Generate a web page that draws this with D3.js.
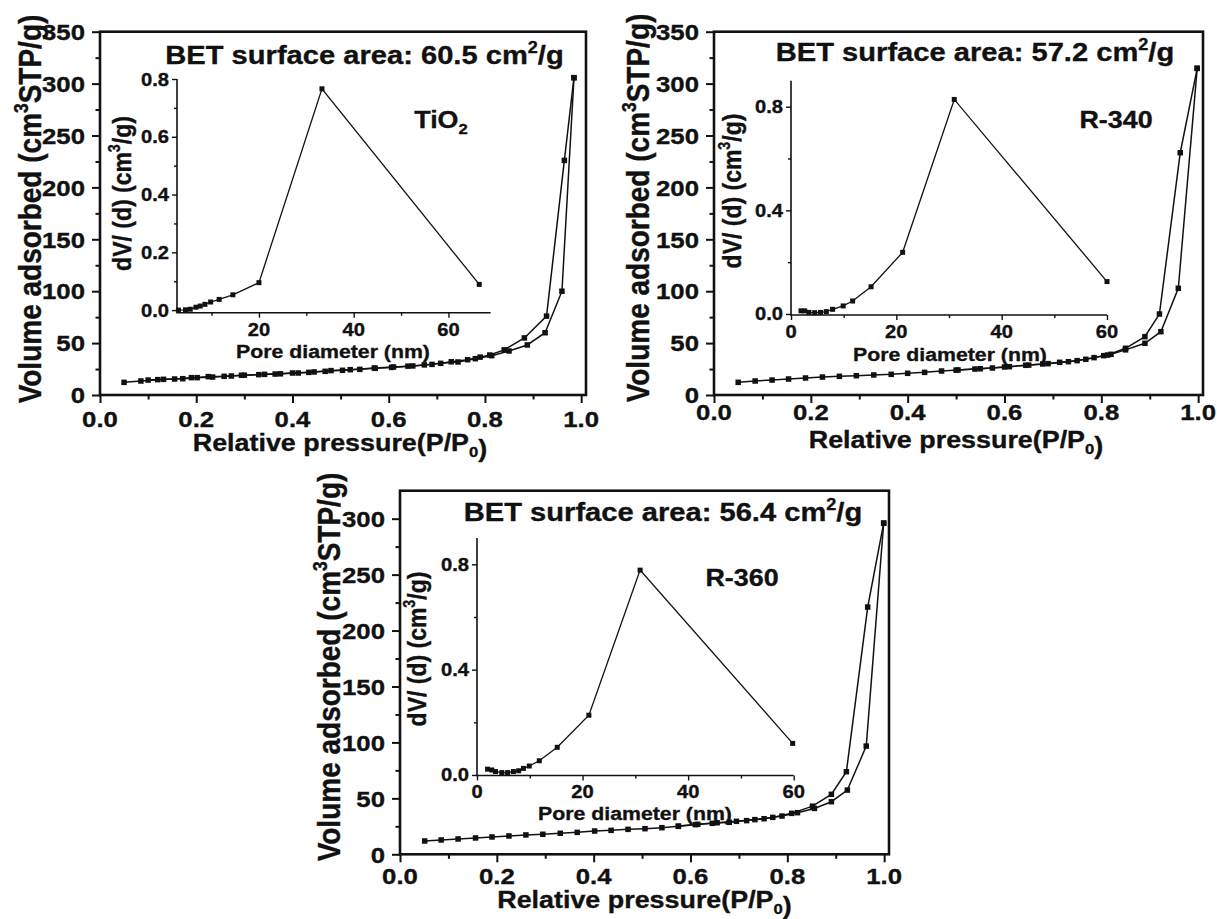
<!DOCTYPE html>
<html>
<head>
<meta charset="utf-8">
<script src="https://cdn.jsdelivr.net/npm/d3@7"></script>
<style>
  body { margin: 0; background: #fff; }
  svg { display: block; }
  text { font-family: "Liberation Sans", Arial, sans-serif; font-weight: bold; fill: #111; stroke: #111; stroke-width: 0.35px; }
</style>
</head>
<body>
<div id="chart"></div>
<script>
// ---- isotherm data (relative pressure / volume adsorbed) ----
const tio2AdsP = [0.05, 0.085, 0.12, 0.155, 0.19, 0.225, 0.258, 0.294, 0.33, 0.364, 0.40, 0.434, 0.468, 0.504, 0.54, 0.572, 0.606, 0.64, 0.674, 0.708, 0.744, 0.78, 0.814, 0.85, 0.888, 0.925, 0.96, 0.985];
const tio2AdsV = [12.2, 13.5, 14.8, 15.4, 16.7, 17.7, 18.0, 19.0, 19.6, 20.2, 21.2, 21.8, 22.8, 23.8, 24.7, 25.7, 26.6, 27.8, 29.0, 30.5, 31.8, 35.0, 37.9, 42.4, 48.2, 60, 100, 305.7];
const tio2DesP = [0.985, 0.965, 0.928, 0.882, 0.84, 0.81, 0.79, 0.764, 0.73, 0.69, 0.65, 0.61, 0.57, 0.52, 0.48, 0.445, 0.412, 0.375, 0.342, 0.30, 0.273, 0.234, 0.202, 0.172, 0.132, 0.10];
const tio2DesV = [305.7, 226, 76, 55, 43.5, 38.5, 36.5, 34.0, 32.0, 29.5, 28.0, 27.0, 26.0, 24.4, 23.5, 22.2, 21.2, 20.4, 19.9, 19.1, 18.3, 17.3, 16.7, 15.7, 15.1, 14.4];

const r340AdsP = [0.05, 0.085, 0.12, 0.154, 0.189, 0.224, 0.259, 0.294, 0.33, 0.366, 0.40, 0.435, 0.47, 0.504, 0.539, 0.575, 0.61, 0.644, 0.679, 0.714, 0.75, 0.785, 0.82, 0.85, 0.89, 0.923, 0.959, 0.998];
const r340AdsV = [12.2, 13.5, 14.4, 15.4, 16.4, 17.3, 18.0, 18.6, 19.3, 19.9, 20.9, 21.8, 23.1, 24.1, 25.0, 26.0, 27.3, 28.6, 29.9, 31.5, 33.1, 36.0, 39.2, 43.5, 49.8, 61, 102.8, 314.7];
const r340DesP = [0.998, 0.963, 0.92, 0.89, 0.85, 0.813, 0.805, 0.768, 0.732, 0.69, 0.65, 0.60, 0.55, 0.50];
const r340DesV = [314.7, 233.4, 78, 56.2, 45, 38.5, 37.9, 34.4, 32.1, 30.2, 28.8, 27.0, 25.3, 24.0];

const r360AdsP = [0.051, 0.085, 0.12, 0.156, 0.19, 0.225, 0.26, 0.295, 0.331, 0.366, 0.402, 0.436, 0.471, 0.506, 0.541, 0.575, 0.61, 0.645, 0.68, 0.716, 0.752, 0.789, 0.821, 0.856, 0.891, 0.924, 0.963, 0.999];
const r360AdsV = [11.9, 12.8, 13.7, 14.6, 15.5, 16.4, 17.3, 17.9, 18.8, 19.6, 20.8, 21.4, 22.3, 22.9, 23.8, 25.0, 26.5, 27.7, 28.6, 30.1, 31.8, 34.2, 37.2, 41.0, 47.0, 57.4, 96.7, 296];
const r360DesP = [0.999, 0.966, 0.922, 0.891, 0.852, 0.809, 0.77, 0.733, 0.695, 0.655, 0.615, 0.575];
const r360DesV = [296, 221, 73.8, 53.6, 43.0, 36.6, 33.0, 31.0, 29.5, 28.2, 26.8, 25.2];

// ---- pore size distribution insets ----
const tio2PoreD = [3.0, 4.5, 5.5, 6.7, 7.6, 8.6, 9.8, 11.6, 14.5, 20.0, 33.3, 66.5];
const tio2PoreV = [0.0, 0.001, 0.003, 0.010, 0.014, 0.020, 0.028, 0.037, 0.053, 0.095, 0.766, 0.089];
const r340PoreD = [1.9, 2.6, 3.4, 4.5, 5.6, 6.7, 7.9, 9.9, 11.7, 15.2, 21.2, 31.0, 60];
const r340PoreV = [0.012, 0.012, 0.006, 0.005, 0.006, 0.009, 0.018, 0.031, 0.050, 0.105, 0.238, 0.828, 0.125];
const r360PoreD = [2.0, 2.8, 3.5, 4.7, 5.8, 6.9, 7.9, 8.8, 9.9, 11.8, 15.2, 21.2, 30.9, 59.8];
const r360PoreV = [0.022, 0.019, 0.013, 0.009, 0.009, 0.013, 0.016, 0.025, 0.034, 0.054, 0.105, 0.227, 0.778, 0.120];

// ---- ticks ----
const mainXTicks = [0, 0.2, 0.4, 0.6, 0.8, 1.0];
const mainXMinor = [0.1, 0.3, 0.5, 0.7, 0.9];
const mainYTicks = [0, 50, 100, 150, 200, 250, 300, 350];
const mainYTicks3 = [0, 50, 100, 150, 200, 250, 300];
const mainYMinor = [25, 75, 125, 175, 225, 275, 325];
const tio2InsetY = [0, 0.2, 0.4, 0.6, 0.8];
const tio2InsetYMinor = [0.1, 0.3, 0.5, 0.7];
const rInsetY = [0, 0.4, 0.8];
const rInsetYMinor = [0.2, 0.6];
const tio2InsetX = [20, 40, 60];
const rInsetX = [0, 20, 40, 60];
const insetXMinor = [10, 30, 50];

const betValues = ['60.5', '57.2', '56.4'];

const W = 1217, H = 919;
const SX = 1.12; // the figure is a little stretched horizontally

const svg = d3.select('#chart').append('svg')
    .attr('width', W)
    .attr('height', H);

// text with optional sup/sub parts, stretched like the original
function addText(g, x, y, size, parts, anchor = 'middle', rot = 0) {
    const t = g.append('text')
        .attr('transform', `translate(${x},${y}) scale(${SX},1)` + (rot ? ` rotate(${rot})` : ''))
        .attr('text-anchor', anchor)
        .attr('font-size', size);
    let shift = 0;
    parts.forEach(p => {
        const s = typeof p === 'string' ? p : p[0];
        const kind = typeof p === 'string' ? '' : p[1];
        const target = kind === 'sup' ? -0.42 * size : kind === 'sub' ? 0.25 * size : 0;
        t.append('tspan')
            .attr('dy', target - shift)
            .attr('font-size', kind ? size * 0.62 : size)
            .text(s);
        shift = target;
    });
    return t;
}

function tickLines(g, axisGen, values, size, sw) {
    g.call(axisGen.tickValues(values).tickSize(size).tickSizeOuter(0).tickFormat(''))
        .call(a => a.select('.domain').remove());
    g.selectAll('.tick line').attr('stroke', '#111').attr('stroke-width', sw);
}

function drawSeries(g, x, y, xs, ys, lw, ms) {
    const pts = xs.map((v, i) => ({ x: v, y: ys[i] }));
    g.append('path')
        .datum(pts)
        .attr('fill', 'none')
        .attr('stroke', '#111')
        .attr('stroke-width', lw)
        .attr('d', d3.line().x(d => x(d.x)).y(d => y(d.y)));
    g.selectAll(null).data(pts).enter().append('rect')
        .attr('x', d => x(d.x) - ms / 2)
        .attr('y', d => y(d.y) - ms / 2)
        .attr('width', ms)
        .attr('height', ms)
        .attr('fill', '#111');
}

const panels = [
    {
        main: { l: 100, r: 586, t: 31.7, b: 395, yMax: 350, yTicks: mainYTicks },
        ads: [tio2AdsP, tio2AdsV], des: [tio2DesP, tio2DesV],
        inset: { l: 177, r: 490.6, t: 79, b: 312.7, xDom: [2.7, 68.9], yDom: [-0.009, 0.8],
                 xTicks: tio2InsetX, yTicks: tio2InsetY, yMinor: tio2InsetYMinor },
        pore: [tio2PoreD, tio2PoreV],
        txt: { ylab: [41, 209], xlab: [340, 451], xtick: 427, bet: [364.5, 64], name: [441, 128],
               iylab: [131, 193.5], ixlab: [333, 358], ixtick: 336 },
        name: ['Ti', ['O', ''], ['2', 'sub']], bet: betValues[0]
    },
    {
        main: { l: 714, r: 1203, t: 31.7, b: 395, yMax: 350, yTicks: mainYTicks },
        ads: [r340AdsP, r340AdsV], des: [r340DesP, r340DesV],
        inset: { l: 791, r: 1107, t: 80.8, b: 315, xDom: [0, 60], yDom: [-0.004, 0.9],
                 xTicks: rInsetX, yTicks: rInsetY, yMinor: rInsetYMinor },
        pore: [r340PoreD, r340PoreV],
        txt: { ylab: [649, 208], xlab: [956, 448], xtick: 420, bet: [975, 61], name: [1116, 128],
               iylab: [741, 191], ixlab: [950, 361], ixtick: 338 },
        name: ['R-340'], bet: betValues[1]
    },
    {
        main: { l: 400, r: 889, t: 490.7, b: 854.3, yMax: 325, yTicks: mainYTicks3 },
        ads: [r360AdsP, r360AdsV], des: [r360DesP, r360DesV],
        inset: { l: 477, r: 793.7, t: 538, b: 775.5, xDom: [0, 60], yDom: [-0.002, 0.9],
                 xTicks: rInsetX, yTicks: rInsetY, yMinor: rInsetYMinor },
        pore: [r360PoreD, r360PoreV],
        txt: { ylab: [340, 667], xlab: [644.5, 908], xtick: 884, bet: [663, 521], name: [742, 586],
               iylab: [426, 649], ixlab: [635, 820], ixtick: 798 },
        name: ['R-360'], bet: betValues[2]
    }
];

panels.forEach(p => {
    const g = svg.append('g');
    const m = p.main;

    // main scales
    const x = d3.scaleLinear().domain([0, 1.01]).range([m.l, m.r]);
    const y = d3.scaleLinear().domain([0, m.yMax]).range([m.b, m.t]);

    // ticks (outward)
    tickLines(g.append('g').attr('transform', `translate(0,${m.b})`), d3.axisBottom(x), mainXTicks, 8, 2);
    tickLines(g.append('g').attr('transform', `translate(0,${m.b})`), d3.axisBottom(x), mainXMinor, 4.5, 2);
    tickLines(g.append('g').attr('transform', `translate(${m.l},0)`), d3.axisLeft(y), m.yTicks, 8, 2);
    tickLines(g.append('g').attr('transform', `translate(${m.l},0)`), d3.axisLeft(y), mainYMinor.filter(v => v < m.yMax), 4.5, 2);

    // frame
    g.append('rect')
        .attr('x', m.l).attr('y', m.t)
        .attr('width', m.r - m.l).attr('height', m.b - m.t)
        .attr('fill', 'none').attr('stroke', '#111').attr('stroke-width', 2.6);

    // tick labels
    mainXTicks.forEach(v => addText(g, x(v), p.txt.xtick, 23, [v.toFixed(1)]));
    m.yTicks.forEach(v => addText(g, m.l - 15, y(v) + 8.2, 23, [String(v)], 'end'));

    // axis titles
    addText(g, p.txt.xlab[0], p.txt.xlab[1], 24, ['Relative pressure(P/P', ['0', 'sub'], ['', ''], ')']);
    addText(g, p.txt.ylab[0], p.txt.ylab[1], 28, ['Volume adsorbed (cm', ['3', 'sup'], ['STP/g)', '']], 'middle', -90);

    // isotherm
    drawSeries(g, x, y, p.des[0], p.des[1], 1.5, 5.5);
    drawSeries(g, x, y, p.ads[0], p.ads[1], 1.5, 5.5);

    // BET text
    addText(g, p.txt.bet[0], p.txt.bet[1], 26, [`BET surface area: ${p.bet} cm`, ['2', 'sup'], ['/g', '']]);

    // inset
    const ins = p.inset;
    const ix = d3.scaleLinear().domain(ins.xDom).range([ins.l, ins.r]);
    const iy = d3.scaleLinear().domain(ins.yDom).range([ins.b, ins.t]);
    tickLines(g.append('g').attr('transform', `translate(0,${ins.b})`), d3.axisBottom(ix), ins.xTicks, 5, 1.4);
    tickLines(g.append('g').attr('transform', `translate(0,${ins.b})`), d3.axisBottom(ix), insetXMinor, 3, 1.4);
    tickLines(g.append('g').attr('transform', `translate(${ins.l},0)`), d3.axisLeft(iy), ins.yTicks, 5, 1.4);
    tickLines(g.append('g').attr('transform', `translate(${ins.l},0)`), d3.axisLeft(iy), ins.yMinor, 3, 1.4);
    g.append('path')
        .attr('d', `M${ins.l},${ins.t}V${ins.b}H${ins.r}`)
        .attr('fill', 'none').attr('stroke', '#111').attr('stroke-width', 1.6);

    ins.xTicks.forEach(v => addText(g, ix(v), p.txt.ixtick, 18, [String(v)]));
    ins.yTicks.forEach(v => addText(g, ins.l - 8, iy(v) + 6.5, 18, [v.toFixed(1)], 'end'));

    drawSeries(g, ix, iy, p.pore[0], p.pore[1], 1.3, 5);

    addText(g, p.txt.ixlab[0], p.txt.ixlab[1], 19, ['Pore diameter (nm)']);
    addText(g, p.txt.iylab[0], p.txt.iylab[1], 23, ['dV/ (d) (cm', ['3', 'sup'], ['/g)', '']], 'middle', -90);

    // sample name
    addText(g, p.txt.name[0], p.txt.name[1], 24, p.name);
});
</script>
</body>
</html>
